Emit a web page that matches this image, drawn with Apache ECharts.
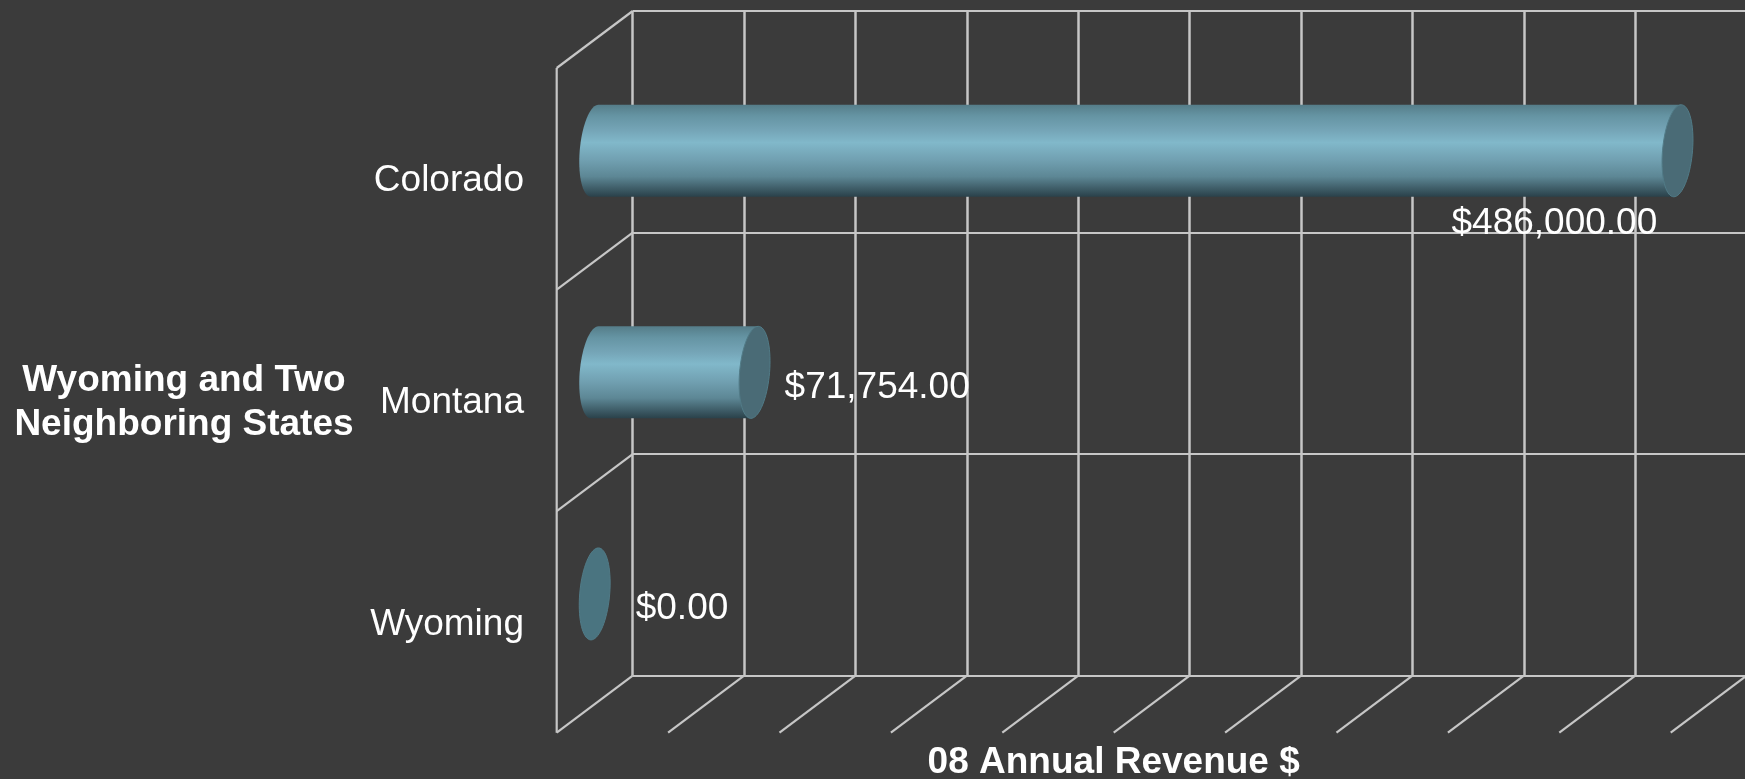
<!DOCTYPE html>
<html>
<head>
<meta charset="utf-8">
<title>08 Annual Revenue</title>
<script src="https://cdn.jsdelivr.net/npm/echarts@6/dist/echarts.min.js"></script>
<style>
  html, body { margin: 0; padding: 0; background: #3b3b3b; }
  #chart { width: 1745px; height: 779px; }
</style>
</head>
<body>
<div id="chart"></div>
<script>
// Revenue per state, bottom row first.
const states = ['Wyoming', 'Montana', 'Colorado'];
const revenue = [0, 71754, 486000];
const valueTicks = [0, 50000, 100000, 150000, 200000, 250000, 300000, 350000, 400000, 450000, 500000];
const yAxisTitle = 'Wyoming and Two\nNeighboring States';
const xAxisTitle = '08 Annual Revenue $';

// Oblique projection: the floor and side wall recede by this offset from the back wall.
const DEPTH_X = -76;
const DEPTH_Y = 57;
// Back wall rectangle; the plane holding the axis text is the same rectangle moved by the depth.
const WALL = { left: 632.7, top: 11, width: 1114, height: 664.7 };
const TEXT_PLANE_DROP = 2.5;
// Cylinder cross-section, in pixels.
const CAP_RX = 15;
const CAP_RY = 46;
const CAP_SKEW = 3.7;
// Where each value label sits relative to the centre of its end cap.
const labelNudge = {
  Wyoming: [41, 14.5],
  Montana: [30, 15.5],
  Colorado: [-226, 73.5]
};

const FONT = '"Liberation Sans", Arial, sans-serif';
const LINE = '#c6c6c6';

const money = v => '$' + v.toLocaleString('en-US', { minimumFractionDigits: 2, maximumFractionDigits: 2 });

// Point on the tilted end-cap ellipse, angle in radians.
function capPoint(cx, cy, t) {
  return [
    cx + CAP_RX * Math.cos(t) + CAP_SKEW * Math.sin(t),
    cy - CAP_RY * Math.sin(t)
  ];
}

function capOutline(cx, cy) {
  const pts = [];
  for (let i = 0; i < 72; i++) pts.push(capPoint(cx, cy, (i / 72) * 2 * Math.PI));
  return pts;
}

// Visible side of the cylinder: the left half of the near ellipse, closed by the far end.
function bodyOutline(x0, x1, cy) {
  const pts = [];
  for (let i = 0; i <= 36; i++) pts.push(capPoint(x0, cy, Math.PI / 2 + (i / 36) * Math.PI));
  pts.push(capPoint(x1, cy, -Math.PI / 2));
  pts.push(capPoint(x1, cy, Math.PI / 2));
  return pts;
}

const bodyFill = new echarts.graphic.LinearGradient(0, 0, 0, 1, [
  { offset: 0, color: '#557d89' },
  { offset: 0.12, color: '#6594a3' },
  { offset: 0.28, color: '#75a5b7' },
  { offset: 0.41, color: '#81b8ca' },
  { offset: 0.6, color: '#71a0b1' },
  { offset: 0.78, color: '#5d8795' },
  { offset: 0.9, color: '#41606b' },
  { offset: 1, color: '#2a414a' }
]);

function renderCylinder(params, api) {
  const value = api.value(0);
  const row = api.value(1);
  const back = api.coord([value, row]);
  const origin = api.coord([0, row]);
  const cy = back[1] + DEPTH_Y / 2 + 0.5;
  const x1 = back[0] + DEPTH_X / 2;
  const x0 = origin[0] + DEPTH_X / 2;
  const nudge = labelNudge[states[row]];
  const children = [];
  if (value > 0) {
    children.push({
      type: 'polygon',
      shape: { points: bodyOutline(x0, x1, cy) },
      style: { fill: bodyFill }
    });
  }
  children.push({
    type: 'polygon',
    shape: { points: capOutline(x1, cy) },
    style: {
      fill: value > 0 ? '#4a6b76' : '#4a7480',
      stroke: '#517b87',
      lineWidth: 1
    }
  });
  children.push({
    type: 'text',
    z2: 10,
    style: {
      x: x1 + nudge[0],
      y: cy + nudge[1],
      text: money(value),
      fill: '#ffffff',
      font: '37px ' + FONT,
      textAlign: 'left',
      textVerticalAlign: 'middle'
    }
  });
  return { type: 'group', children };
}

// Diagonal strokes across the floor, one per value tick.
function renderFloorTick(params, api) {
  const x = api.coord([api.value(0), 0])[0];
  const y = params.coordSys.y + params.coordSys.height;
  return {
    type: 'line',
    shape: { x1: x, y1: y, x2: x + DEPTH_X, y2: y + DEPTH_Y },
    style: { stroke: LINE, lineWidth: 2.2 }
  };
}

// Side wall: a diagonal at the top of every band, then the front edge.
function renderWall(params, api) {
  const cs = params.coordSys;
  const band = api.size([0, 1])[1];
  const top = api.coord([0, api.value(0)])[1] - band / 2;
  const children = [{
    type: 'line',
    shape: { x1: cs.x, y1: top, x2: cs.x + DEPTH_X, y2: top + DEPTH_Y },
    style: { stroke: LINE, lineWidth: 2.2 }
  }];
  if (api.value(0) === states.length - 1) {
    children.push({
      type: 'line',
      shape: {
        x1: cs.x + DEPTH_X, y1: cs.y + DEPTH_Y,
        x2: cs.x + DEPTH_X, y2: cs.y + cs.height + DEPTH_Y
      },
      style: { stroke: LINE, lineWidth: 2.2 }
    });
  }
  return { type: 'group', children };
}

const valueRange = {
  type: 'value',
  min: valueTicks[0],
  max: valueTicks[valueTicks.length - 1],
  interval: valueTicks[1] - valueTicks[0],
  axisLine: { show: false },
  axisTick: { show: false },
  axisLabel: { show: false }
};

const chart = echarts.init(document.getElementById('chart'), null, { renderer: 'canvas' });
chart.setOption({
  animation: false,
  backgroundColor: '#3b3b3b',
  grid: [
    // Back wall: carries the gridlines and the data.
    { ...WALL, outerBoundsMode: 'none' },
    // Front plane: carries the axis titles and the state names.
    {
      left: WALL.left + DEPTH_X,
      top: WALL.top + DEPTH_Y + TEXT_PLANE_DROP,
      width: WALL.width,
      height: WALL.height,
      outerBoundsMode: 'none'
    }
  ],
  xAxis: [
    {
      ...valueRange,
      gridIndex: 0,
      splitLine: { show: true, lineStyle: { color: LINE, width: 2.5 } }
    },
    {
      ...valueRange,
      gridIndex: 1,
      splitLine: { show: false },
      name: xAxisTitle,
      nameLocation: 'middle',
      nameGap: 9.5,
      nameTextStyle: {
        color: '#ffffff',
        fontFamily: FONT,
        fontWeight: 'bold',
        fontSize: 37
      }
    }
  ],
  yAxis: [
    {
      type: 'category',
      gridIndex: 0,
      data: states,
      axisLine: { show: false },
      axisTick: { show: false },
      axisLabel: { show: false },
      splitLine: { show: true, lineStyle: { color: LINE, width: 2 } }
    },
    {
      type: 'category',
      gridIndex: 1,
      data: states,
      axisLine: { show: false },
      axisTick: { show: false },
      splitLine: { show: false },
      axisLabel: {
        color: '#ffffff',
        fontFamily: FONT,
        fontSize: 37,
        margin: 32.7
      },
      name: yAxisTitle,
      nameLocation: 'middle',
      nameRotate: 0,
      nameGap: 372.7,
      nameTextStyle: {
        color: '#ffffff',
        fontFamily: FONT,
        fontWeight: 'bold',
        fontSize: 37,
        lineHeight: 44,
        align: 'center'
      }
    }
  ],
  series: [
    {
      name: 'Floor',
      type: 'custom',
      silent: true,
      renderItem: renderFloorTick,
      data: valueTicks.map(v => [v]),
      encode: { x: 0 }
    },
    {
      name: 'Wall',
      type: 'custom',
      silent: true,
      renderItem: renderWall,
      data: states.map((s, i) => [i]),
      encode: { y: 0 }
    },
    {
      name: xAxisTitle,
      type: 'custom',
      z: 5,
      renderItem: renderCylinder,
      data: revenue.map((v, i) => [v, i]),
      encode: { x: 0, y: 1 }
    }
  ]
});
</script>
</body>
</html>
